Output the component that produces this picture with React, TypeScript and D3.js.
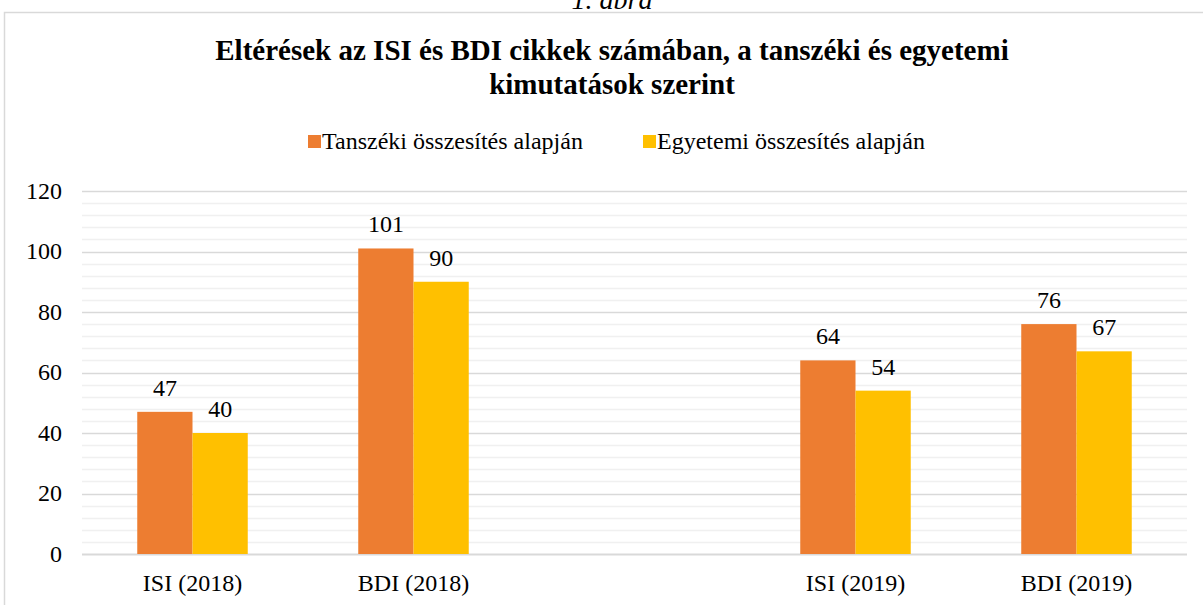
import React, { useEffect, useRef } from 'react';
import * as d3 from 'd3';

const categories = ['ISI (2018)', 'BDI (2018)', '', 'ISI (2019)', 'BDI (2019)'];
const seriesNames = ['Tanszéki összesítés alapján', 'Egyetemi összesítés alapján'];
const tanszeki = [47, 101, null, 64, 76];
const egyetemi = [40, 90, null, 54, 67];
const colors = ['#ED7D31', '#FFC000'];
const yTicks = [0, 20, 40, 60, 80, 100, 120];

const App = () => {
    const svgRef = useRef<SVGSVGElement>(null);

    useEffect(() => {
        const width = 1203;
        const height = 605;
        const margin = { top: 191, right: 16, bottom: 51, left: 82 };
        const font = 'Liberation Serif';
        const fs = 24;

        const svg = d3.select(svgRef.current)
            .attr('width', width)
            .attr('height', height)
            .attr('font-family', font)
            .style('position', 'absolute')
            .style('left', 0)
            .style('top', 0)
            .style('background', '#fff');

        svg.selectAll('*').remove();

        // Frame around the chart
        svg.append('rect')
            .attr('x', 4.5)
            .attr('y', 12.5)
            .attr('width', width + 10)
            .attr('height', height)
            .attr('fill', '#fff')
            .attr('stroke', '#d9d9d9')
            .attr('stroke-width', 1.5);

        // Figure caption, partly cut off at the top
        svg.append('text')
            .attr('x', 612)
            .attr('y', 9)
            .attr('text-anchor', 'middle')
            .attr('font-style', 'italic')
            .attr('font-size', 28)
            .text('1. ábra');

        // Title
        const title = svg.append('text')
            .attr('text-anchor', 'middle')
            .attr('font-weight', 'bold')
            .attr('font-size', 29);
        title.append('tspan').attr('x', 612).attr('y', 60)
            .text('Eltérések az ISI és BDI cikkek számában, a tanszéki és egyetemi');
        title.append('tspan').attr('x', 612).attr('y', 94)
            .text('kimutatások szerint');

        // Legend
        const legendX = [308, 643];
        seriesNames.forEach((name, i) => {
            const g = svg.append('g').attr('transform', `translate(${legendX[i]},141)`);
            g.append('rect').attr('x', 0).attr('y', -6).attr('width', 13).attr('height', 13).attr('fill', colors[i]);
            g.append('text')
                .attr('x', 14)
                .attr('y', 8)
                .attr('font-size', fs)
                .text(name);
        });

        // Scales
        const x = d3.scaleBand<number>()
            .domain(categories.map((_, i) => i))
            .range([margin.left, width - margin.right])
            .padding(0);

        const y = d3.scaleLinear()
            .domain([0, 120])
            .range([height - margin.bottom, margin.top]);

        // Minor gridlines
        svg.append('g')
            .selectAll('line')
            .data(d3.range(0, 121, 4).filter(v => v % 20 !== 0))
            .join('line')
            .attr('x1', margin.left)
            .attr('x2', width - margin.right)
            .attr('y1', d => Math.round(y(d)) + 0.5)
            .attr('y2', d => Math.round(y(d)) + 0.5)
            .attr('stroke', '#f0f0f0')
            .attr('stroke-width', 1.5);

        // Major gridlines
        svg.append('g')
            .selectAll('line')
            .data(yTicks)
            .join('line')
            .attr('x1', margin.left)
            .attr('x2', width - margin.right)
            .attr('y1', d => Math.round(y(d)) + 0.5)
            .attr('y2', d => Math.round(y(d)) + 0.5)
            .attr('stroke', '#d9d9d9')
            .attr('stroke-width', d => (d === 0 ? 2 : 1.5));

        // Y tick labels
        svg.append('g')
            .selectAll('text')
            .data(yTicks)
            .join('text')
            .attr('x', 62)
            .attr('y', d => y(d))
            .attr('dy', '0.33em')
            .attr('text-anchor', 'end')
            .attr('font-size', fs)
            .text(d => d);

        // Bars
        const xSub = d3.scaleBand<number>()
            .domain([0, 1])
            .range([x.bandwidth() / 4, (x.bandwidth() * 3) / 4])
            .padding(0);

        const series = [tanszeki, egyetemi];
        series.forEach((vals, s) => {
            const pts = vals
                .map((v, i) => ({ v, i }))
                .filter(d => d.v !== null) as { v: number; i: number }[];

            svg.append('g')
                .selectAll('rect')
                .data(pts)
                .join('rect')
                .attr('x', d => (x(d.i) as number) + (xSub(s) as number))
                .attr('y', d => y(d.v))
                .attr('width', xSub.bandwidth())
                .attr('height', d => y(0) - y(d.v))
                .attr('fill', colors[s]);

            svg.append('g')
                .selectAll('text')
                .data(pts)
                .join('text')
                .attr('x', d => (x(d.i) as number) + (xSub(s) as number) + xSub.bandwidth() / 2)
                .attr('y', d => y(d.v) - 16)
                .attr('text-anchor', 'middle')
                .attr('font-size', fs)
                .text(d => d.v);
        });

        // X category labels
        svg.append('g')
            .selectAll('text')
            .data(categories)
            .join('text')
            .attr('x', (_, i) => (x(i) as number) + x.bandwidth() / 2)
            .attr('y', 591)
            .attr('text-anchor', 'middle')
            .attr('font-size', fs)
            .text(d => d);
    }, []);

    return <svg ref={svgRef}></svg>;
};

export default App;
